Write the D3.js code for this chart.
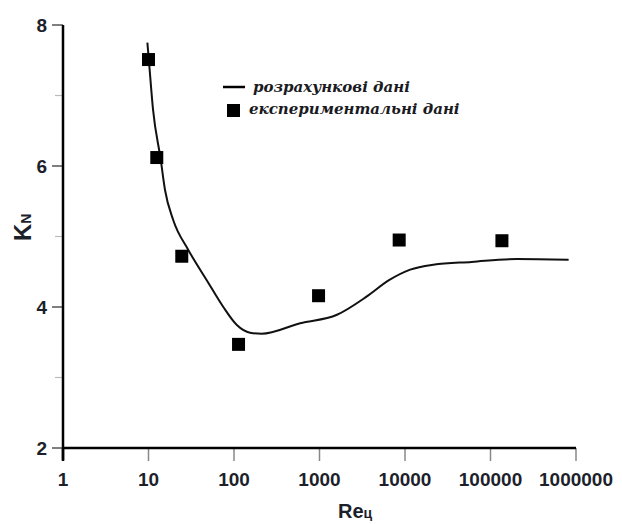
<!DOCTYPE html>
<html>
<head>
<meta charset="utf-8">
<script src="https://cdn.jsdelivr.net/npm/d3@7"></script>
<style>
  body { margin: 0; background: #fff; }
  svg { display: block; }
</style>
</head>
<body>
<script>
// calculated curve (Re, K)
let calcRe = [9.7, 10.1, 11.3, 13.9, 15.6, 19.5, 29.2, 48, 75, 108, 154, 210, 594, 1600, 3580, 6500, 11500, 21400, 60000, 204000, 820000]
let calcK  = [7.75, 7.5, 6.8, 6.09, 5.66, 5.23, 4.81, 4.38, 4.0, 3.745, 3.635, 3.62, 3.77, 3.89, 4.15, 4.38, 4.53, 4.6, 4.64, 4.68, 4.67]

// experimental points
let expRe = [10, 12.5, 24.5, 113, 975, 8550, 136000]
let expK  = [7.51, 6.12, 4.72, 3.47, 4.16, 4.95, 4.94]

let xTicks = [1, 10, 100, 1000, 10000, 100000, 1000000]
let yTicks = [2, 4, 6, 8]
let yMinor = [3, 5, 7]

let legendLabels = ['розрахункові дані', 'експериментальні дані']

let width = 622, height = 524
let svg = d3.select('body').append('svg')
  .attr('width', width)
  .attr('height', height)

let x = d3.scaleLog().domain([1, 1000000]).range([63, 576])
let y = d3.scaleLinear().domain([2, 8]).range([448, 25])

const labelColor = '#1d1f2b'

// x ticks
svg.append('g').selectAll('line').data(xTicks).join('line')
  .attr('x1', d => x(d)).attr('x2', d => x(d))
  .attr('y1', y(2)).attr('y2', y(2) + 13)
  .attr('stroke', d => d === 1 ? '#000' : '#888')
  .attr('stroke-width', d => d === 1 ? 2.5 : 1.5)

svg.append('g').selectAll('text').data(xTicks).join('text')
  .attr('x', d => x(d))
  .attr('y', 486)
  .attr('text-anchor', 'middle')
  .attr('font-family', 'Liberation Sans, Arial, sans-serif')
  .attr('font-weight', 'bold')
  .attr('font-size', 19)
  .attr('fill', labelColor)
  .text(d => d)

// y ticks
svg.append('g').selectAll('line').data(yTicks).join('line')
  .attr('x1', 52).attr('x2', x(1))
  .attr('y1', d => y(d)).attr('y2', d => y(d))
  .attr('stroke', '#555')
  .attr('stroke-width', 1.5)

svg.append('g').selectAll('line').data(yMinor).join('line')
  .attr('x1', 55).attr('x2', x(1))
  .attr('y1', d => y(d)).attr('y2', d => y(d))
  .attr('stroke', '#bbb')
  .attr('stroke-width', 1.2)

svg.append('g').selectAll('text').data(yTicks).join('text')
  .attr('x', 47)
  .attr('y', d => y(d) + 7)
  .attr('text-anchor', 'end')
  .attr('font-family', 'Liberation Sans, Arial, sans-serif')
  .attr('font-weight', 'bold')
  .attr('font-size', 19)
  .attr('fill', labelColor)
  .text(d => d)

// axis lines
svg.append('line')
  .attr('x1', x(1)).attr('x2', x(1))
  .attr('y1', y(8)).attr('y2', y(2) + 12)
  .attr('stroke', '#000').attr('stroke-width', 2.5)
svg.append('line')
  .attr('x1', x(1)).attr('x2', x(1000000))
  .attr('y1', y(2)).attr('y2', y(2))
  .attr('stroke', '#000').attr('stroke-width', 2.5)

// axis titles
let xt = svg.append('text')
  .attr('x', 338).attr('y', 518)
  .attr('font-family', 'Liberation Sans, Arial, sans-serif')
  .attr('font-weight', 'bold')
  .attr('fill', labelColor)
xt.append('tspan').attr('font-size', 20).text('Re')
xt.append('tspan').attr('font-size', 14).text('ц')

let yt = svg.append('text')
  .attr('transform', 'translate(31, 241) rotate(-90)')
  .attr('font-family', 'Liberation Sans, Arial, sans-serif')
  .attr('font-weight', 'bold')
  .attr('fill', labelColor)
yt.append('tspan').attr('font-size', 24).text('K')
yt.append('tspan').attr('font-size', 14).text('N')

// curve
let line = d3.line()
  .x((d, i) => x(calcRe[i]))
  .y((d, i) => y(calcK[i]))
  .curve(d3.curveMonotoneX)

svg.append('path')
  .datum(calcK)
  .attr('d', line)
  .attr('fill', 'none')
  .attr('stroke', '#111')
  .attr('stroke-width', 2)

// experimental squares
const sq = 13
svg.append('g').selectAll('rect').data(expK).join('rect')
  .attr('x', (d, i) => x(expRe[i]) - sq / 2)
  .attr('y', d => y(d) - sq / 2)
  .attr('width', sq).attr('height', sq)
  .attr('fill', '#000')

// legend
let legend = svg.append('g')
legend.append('line')
  .attr('x1', 223).attr('x2', 245)
  .attr('y1', 87).attr('y2', 87)
  .attr('stroke', '#000').attr('stroke-width', 2.5)
legend.append('rect')
  .attr('x', 227).attr('y', 104)
  .attr('width', 13).attr('height', 13)
  .attr('fill', '#000')
legend.selectAll('text').data(legendLabels).join('text')
  .attr('x', (d, i) => i ? 249 : 253)
  .attr('y', (d, i) => i ? 114 : 92)
  .attr('font-family', 'DejaVu Serif, serif')
  .attr('font-style', 'italic')
  .attr('font-weight', 'bold')
  .attr('font-size', 15)
  .attr('fill', '#1a1a22')
  .text(d => d)
</script>
</body>
</html>
